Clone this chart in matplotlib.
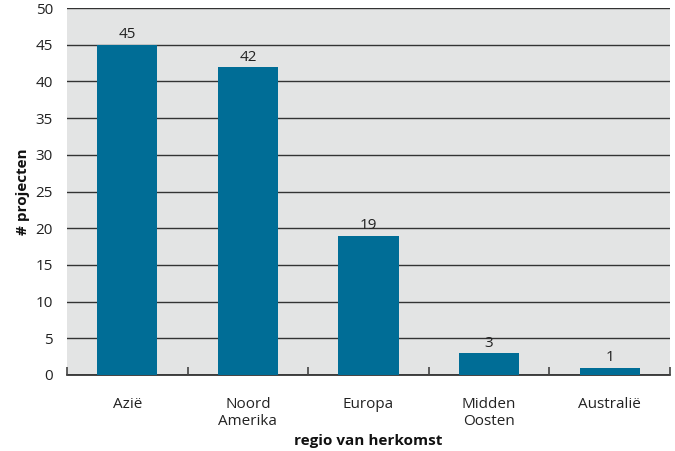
import matplotlib
matplotlib.use("Agg")
import matplotlib.pyplot as plt
from matplotlib.ticker import MultipleLocator

categories = ["Azië", "Noord\nAmerika", "Europa", "Midden\nOosten", "Australië"]
values = [45, 42, 19, 3, 1]

plt.rcParams['font.family'] = ['Open Sans', 'DejaVu Sans']

fig = plt.figure(figsize=(6.75, 4.51), dpi=100)
ax = fig.add_axes([67/675, 1-375/451, (670-67)/675, (375-8)/451])
ax.set_facecolor('#e3e4e4')

x = list(range(len(categories)))
bars = ax.bar(x, values, width=0.5, color='#006d96', zorder=3)
for xi, v in zip(x, values):
    ax.text(xi, v + 0.3, str(v), ha='center', va='bottom', fontsize=11, color='#222222', zorder=4)

ax.set_xlim(-0.5, len(categories) - 0.5)
ax.set_ylim(0, 50)
ax.yaxis.set_major_locator(MultipleLocator(5))
ax.yaxis.grid(True, color='#333333', linewidth=1.0, zorder=1)
ax.set_axisbelow(True)

# category separator ticks pointing up from the baseline
boundaries = [i + 0.5 for i in range(-1, len(categories))]
ax.vlines(boundaries, 0, 0.022, transform=ax.get_xaxis_transform(),
          colors='#444444', linewidth=1.2, zorder=4, clip_on=False)

ax.set_xticks(x)
ax.set_xticklabels(categories, fontsize=11, color='#222222', linespacing=1.15)
ax.tick_params(axis='x', which='both', length=0, pad=16)
ax.tick_params(axis='y', length=0, pad=10, labelsize=11, labelcolor='#222222')

for s in ['left', 'right', 'top']:
    ax.spines[s].set_visible(False)
ax.spines['bottom'].set_color('#222222')
ax.spines['bottom'].set_linewidth(1.2)

ax.set_ylabel('# projecten', fontsize=11, fontweight='bold', color='#111111', labelpad=4)
ax.set_xlabel('regio van herkomst', fontsize=11, fontweight='bold', color='#111111', labelpad=4)

fig.savefig('out.png', dpi=100)
